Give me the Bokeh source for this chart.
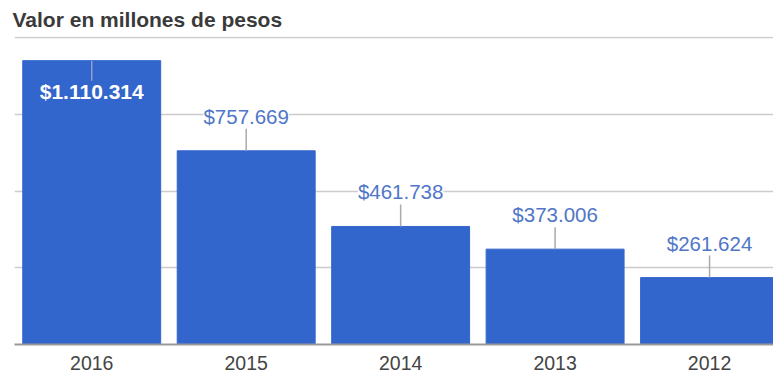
from bokeh.plotting import figure
from bokeh.models import ColumnDataSource, Range1d, FixedTicker, LabelSet
from bokeh.core.properties import value
from bokeh.embed import file_html
from bokeh.resources import INLINE

title = "Valor en millones de pesos"
years = ["2016", "2015", "2014", "2013", "2012"]
values = [1110314, 757669, 461738, 373006, 261624]
labels = ["$1.110.314", "$757.669", "$461.738", "$373.006", "$261.624"]
y_ticks = [0, 300000, 600000, 900000, 1200000]

FONT = "Liberation Sans"
BLUE = "#3366cc"

idx = list(range(len(years)))
inside = [v > 0.85 * y_ticks[-1] for v in values]

src_all = ColumnDataSource(dict(x=idx, top=values))
src_out = ColumnDataSource(dict(
    x=[i for i in idx if not inside[i]],
    y=[values[i] for i in idx if not inside[i]],
    t=[labels[i] for i in idx if not inside[i]],
))
src_in = ColumnDataSource(dict(
    x=[i for i in idx if inside[i]],
    y=[values[i] for i in idx if inside[i]],
    t=[labels[i] for i in idx if inside[i]],
))

p = figure(width=773, height=375, output_backend="svg", toolbar_location=None,
           x_range=Range1d(-0.5, 4.414), y_range=Range1d(y_ticks[0], y_ticks[-1] * 1.004),
           min_border_left=14, min_border_right=0, min_border_top=0, min_border_bottom=31)

p.title.text = title
p.title.text_font = FONT
p.title.text_font_size = "21px"
p.title.text_font_style = "bold"
p.title.text_color = "#3a3a3a"
p.title.align = "left"
p.title.offset = -2
p.title.standoff = 11

p.outline_line_color = None
p.background_fill_color = "white"
p.border_fill_color = "white"

p.vbar(x="x", top="top", width=0.893, source=src_all, fill_color=BLUE, line_color=BLUE)

# leader lines
p.ray(x="x", y="y", length=22, length_units="screen", angle=1.5708, source=src_out,
      line_color="#aaaaaa", line_width=1.5)
p.ray(x="x", y="y", length=20, length_units="screen", angle=-1.5708, source=src_in,
      line_color="#8ea0cc", line_width=1.5)

p.add_layout(LabelSet(x="x", y="y", text="t", source=src_out, y_offset=27,
                      text_align="center", text_baseline="alphabetic",
                      text_font=value(FONT), text_font_size=value("20.5px"), text_color=value("#4f76c8"),
                      background_fill_color="white"))
p.add_layout(LabelSet(x="x", y="y", text="t", source=src_in, y_offset=-38,
                      text_align="center", text_baseline="alphabetic",
                      text_font=value(FONT), text_font_size=value("21px"), text_color=value("white"),
                      text_font_style=value("bold")))

p.yaxis.visible = False
p.ygrid.ticker = FixedTicker(ticks=y_ticks)
p.ygrid.grid_line_color = "#cccccc"
p.ygrid.grid_line_width = 1.5
p.xgrid.visible = False

p.xaxis.ticker = FixedTicker(ticks=idx)
p.xaxis.major_label_overrides = {i: y for i, y in zip(idx, years)}
p.xaxis.major_tick_line_color = None
p.xaxis.minor_tick_line_color = None
p.xaxis.axis_line_color = "#999999"
p.xaxis.axis_line_width = 2
p.xaxis.major_label_text_font = FONT
p.xaxis.major_label_text_font_size = "19.5px"
p.xaxis.major_label_text_color = "#444444"
p.xaxis.major_label_standoff = 5

open("out.html", "w").write(file_html(p, INLINE))
